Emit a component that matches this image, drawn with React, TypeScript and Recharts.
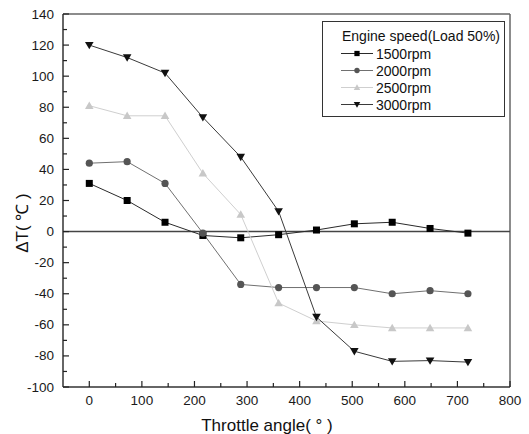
import React from 'react';
import { LineChart, Line, XAxis, YAxis, ReferenceLine } from 'recharts';

// Throttle angle (deg) and temperature difference per engine speed
const angles = [0, 72, 144, 216, 288, 360, 432, 504, 576, 648, 720];
const rpm1500 = [31, 20, 6, -2.5, -4, -2, 1, 5, 6, 2, -1];
const rpm2000 = [44, 45, 31, -1, -34, -36, -36, -36, -40, -38, -40];
const rpm2500 = [81, 74.5, 74.5, 37.5, 11, -46, -57.5, -60, -62, -62, -62];
const rpm3000 = [120, 112, 102, 73.5, 48, 13, -55, -77, -83.5, -83, -84];

const xTicks = [0, 50, 100, 150, 200, 250, 300, 350, 400, 450, 500, 550, 600, 650, 700, 750, 800];
const yTicks = [-100, -90, -80, -70, -60, -50, -40, -30, -20, -10, 0, 10, 20, 30, 40, 50, 60, 70, 80, 90, 100, 110, 120, 130, 140];

const legendTitle = 'Engine speed(Load 50%)';

const series = [
  { key: 'r1500', name: '1500rpm', values: rpm1500, shape: 'square', fill: '#000000', stroke: '#2a2a2a' },
  { key: 'r2000', name: '2000rpm', values: rpm2000, shape: 'circle', fill: '#555555', stroke: '#707070' },
  { key: 'r2500', name: '2500rpm', values: rpm2500, shape: 'up', fill: '#c8c8c8', stroke: '#cfcfcf' },
  { key: 'r3000', name: '3000rpm', values: rpm3000, shape: 'down', fill: '#111111', stroke: '#3a3a3a' },
];

const data = angles.map((a, i) => {
  const row: any = { angle: a };
  series.forEach((s) => { row[s.key] = s.values[i]; });
  return row;
});

const FONT = '"Liberation Sans", Arial, sans-serif';

const Marker = ({ shape, cx, cy, fill, s = 1 }: any) => {
  if (shape === 'square') return <rect x={cx - 3.5 * s} y={cy - 3.5 * s} width={7 * s} height={7 * s} fill={fill} />;
  if (shape === 'circle') return <circle cx={cx} cy={cy} r={3.6 * s} fill={fill} />;
  if (shape === 'up') return <path d={`M${cx},${cy - 4.2 * s}L${cx + 4.3 * s},${cy + 3.2 * s}L${cx - 4.3 * s},${cy + 3.2 * s}Z`} fill={fill} />;
  return <path d={`M${cx - 4.3 * s},${cy - 3.2 * s}L${cx + 4.3 * s},${cy - 3.2 * s}L${cx},${cy + 4.2 * s}Z`} fill={fill} />;
};

const makeDot = (shape: string, fill: string) => (props: any) => {
  const { cx, cy, index } = props;
  if (cx == null || cy == null) return <g key={index} />;
  return <Marker key={index} shape={shape} cx={cx} cy={cy} fill={fill} />;
};

const XTick = ({ x, y, payload }: any) => {
  const major = payload.value % 100 === 0;
  return (
    <g>
      <line x1={x} y1={y} x2={x} y2={y - (major ? 6 : 4)} stroke="#222" strokeWidth={1.2} />
      {major && (
        <text x={x} y={y + 18} textAnchor="middle" fontSize={13.5} fill="#1a1a1a" fontFamily={FONT}>
          {payload.value}
        </text>
      )}
    </g>
  );
};

const YTick = ({ x, y, payload }: any) => {
  const major = payload.value % 20 === 0;
  return (
    <g>
      <line x1={x} y1={y} x2={x + (major ? 6 : 4)} y2={y} stroke="#222" strokeWidth={1.2} />
      {major && (
        <text x={x - 9} y={y + 4.5} textAnchor="end" fontSize={13.5} fill="#1a1a1a" fontFamily={FONT}>
          {payload.value}
        </text>
      )}
    </g>
  );
};

const LegendBox = () => (
  <div
    style={{
      position: 'absolute',
      left: 322,
      top: 21,
      width: 183,
      height: 96,
      border: '1px solid #333',
      boxSizing: 'border-box',
      background: '#fff',
      fontFamily: FONT,
      fontSize: 14,
      color: '#111',
    }}
  >
    <div style={{ position: 'absolute', left: 19, top: 6, whiteSpace: 'nowrap' }}>{legendTitle}</div>
    {series.map((s, i) => (
      <div key={s.key} style={{ position: 'absolute', left: 17, top: 23 + i * 17, height: 17, display: 'flex', alignItems: 'center' }}>
        <svg width={34} height={17}>
          <line x1={1} y1={8.5} x2={33} y2={8.5} stroke={s.stroke} strokeWidth={1} />
          <Marker shape={s.shape} cx={17} cy={8.5} fill={s.fill} s={0.75} />
        </svg>
        <span style={{ marginLeft: 2, whiteSpace: 'nowrap' }}>{s.name}</span>
      </div>
    ))}
  </div>
);

export default function App() {
  return (
    <div style={{ position: 'absolute', left: 0, top: 0, width: 529, height: 434, background: '#fff' }}>
      <LineChart width={529} height={434} data={data} margin={{ top: 14, right: 19, left: 0, bottom: 0 }}>
        <XAxis
          dataKey="angle"
          type="number"
          domain={[-50, 800]}
          ticks={xTicks}
          interval={0}
          allowDataOverflow
          height={47}
          tickSize={0}
          tickMargin={0}
          tickLine={false}
          tick={<XTick />}
          axisLine={{ stroke: '#333', strokeWidth: 1.5 }}
          label={() => (
            <text x={267} y={431} textAnchor="middle" fontSize={17} fill="#111" fontFamily={FONT}>
              Throttle angle( ° )
            </text>
          )}
        />
        <YAxis
          type="number"
          domain={[-100, 140]}
          ticks={yTicks}
          interval={0}
          allowDataOverflow
          width={63}
          tickSize={0}
          tickMargin={0}
          tickLine={false}
          tick={<YTick />}
          axisLine={{ stroke: '#333', strokeWidth: 1.5 }}
          label={() => (
            <text x={28} y={223} transform="rotate(-90 28 223)" textAnchor="middle" fontSize={17} fill="#111" fontFamily={FONT}>
              ΔT( ℃ )
            </text>
          )}
        />
        <ReferenceLine y={140} stroke="#666" strokeWidth={1.5} />
        <ReferenceLine x={800} stroke="#666" strokeWidth={1.5} />
        <ReferenceLine y={0} stroke="#444" strokeWidth={1.5} />
        {series.map((s) => (
          <Line
            key={s.key}
            dataKey={s.key}
            name={s.name}
            type="linear"
            stroke={s.stroke}
            strokeWidth={1}
            dot={makeDot(s.shape, s.fill)}
            activeDot={false}
            isAnimationActive={false}
          />
        ))}
      </LineChart>
      <LegendBox />
    </div>
  );
}
